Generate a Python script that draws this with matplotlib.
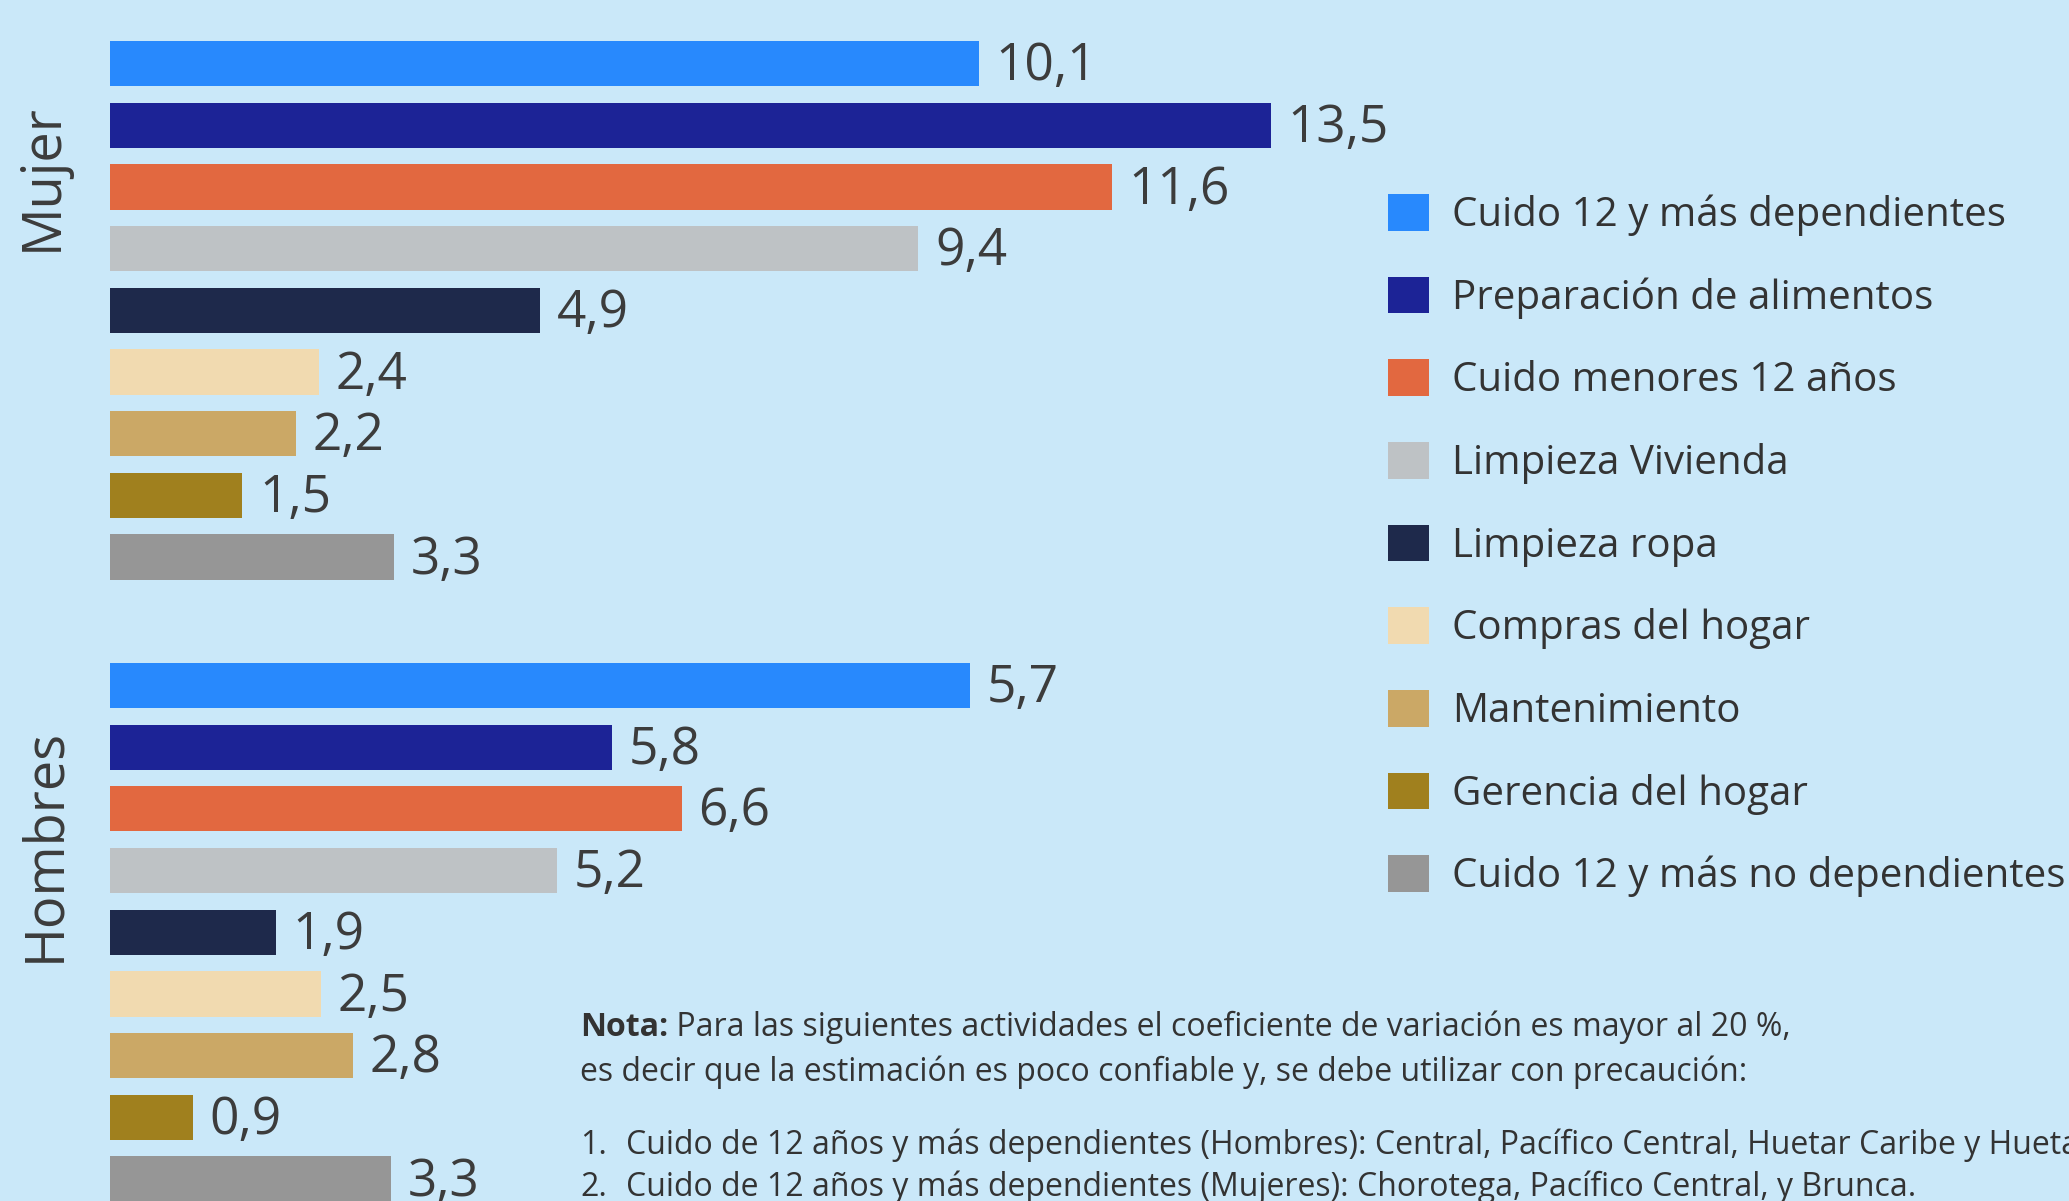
import matplotlib
matplotlib.use("Agg")
import matplotlib.pyplot as plt
import numpy as np
from matplotlib.patches import Patch

# --- data -------------------------------------------------------------
ACTIVIDADES = [
    "Cuido 12 y más dependientes",
    "Preparación de alimentos",
    "Cuido menores 12 años",
    "Limpieza Vivienda",
    "Limpieza ropa",
    "Compras del hogar",
    "Mantenimiento",
    "Gerencia del hogar",
    "Cuido 12 y más no dependientes",
]
COLORES = ["#2889FD", "#1C2396", "#E26840", "#BEC2C5", "#1E294B",
           "#F1DAB0", "#CBA866", "#A0801E", "#969696"]

GRUPOS = ["Mujer", "Hombres"]
# bar lengths (they drift a little from the printed labels)
MUJER = [10.1, 13.5, 11.65, 9.4, 5.0, 2.43, 2.16, 1.54, 3.3]
# the first Hombres bar is drawn about as long as 10.0 in the source, though labelled 5,7
HOMBRES = [10.0, 5.84, 6.65, 5.2, 1.93, 2.45, 2.82, 0.96, 3.27]
MUJER_ETIQ = ["10,1", "13,5", "11,6", "9,4", "4,9", "2,4", "2,2", "1,5", "3,3"]
HOMBRES_ETIQ = ["5,7", "5,8", "6,6", "5,2", "1,9", "2,5", "2,8", "0,9", "3,3"]

NOTA_TITULO = "Nota:"
NOTA_LINEAS = [
    " Para las siguientes actividades el coeficiente de variación es mayor al 20 %,",
    "es decir que la estimación es poco confiable y, se debe utilizar con precaución:",
]
NOTA_ITEMS = [
    "Cuido de 12 años y más dependientes (Hombres): Central, Pacífico Central, Huetar Caribe y Huetar Norte.",
    "Cuido de 12 años y más dependientes (Mujeres): Chorotega, Pacífico Central, y Brunca.",
]

# --- layout -----------------------------------------------------------
W, H = 2069, 1201
BG = "#CAE8F9"
TXT = "#3C3C3C"
NOTA_TXT = "#333333"
NOTA_FS = 23

plt.rcParams["font.family"] = ["Open Sans", "DejaVu Sans"]


def fx(px):
    return px / W


def fy(py):
    return 1 - py / H


fig = plt.figure(figsize=(W / 100, H / 100), dpi=100, facecolor=BG)
ax = fig.add_axes([fx(110), 0, 1290 / W, 1])
ax.set_facecolor("none")
ax.set_xlim(0, 15)
ax.set_ylim(18.436, -1.029)
ax.set_axis_off()

pos_m = np.arange(len(MUJER))
pos_h = np.arange(len(HOMBRES)) + 10.08

for pos, vals, etiq in [(pos_m, MUJER, MUJER_ETIQ), (pos_h, HOMBRES, HOMBRES_ETIQ)]:
    ax.barh(pos, vals, height=0.733, color=COLORES, linewidth=0)
    for y, v, t in zip(pos, vals, etiq):
        ax.annotate(t, (v, y), xytext=(12, -12), textcoords="offset points",
                    ha="left", va="baseline", fontsize=37, color=TXT,
                    annotation_clip=False)

# group labels
for nombre, (px, py) in zip(GRUPOS, [(57, 177), (59, 845)]):
    fig.text(fx(px), fy(py), nombre, rotation=90, rotation_mode="anchor",
             ha="center", va="baseline", fontsize=39, color=TXT)

# legend
handles = [Patch(facecolor=c, edgecolor="none") for c in COLORES]
ax.legend(handles, ACTIVIDADES, loc="upper left",
          bbox_to_anchor=(fx(1388), fy(194)), bbox_transform=fig.transFigure,
          frameon=False, fontsize=29, labelcolor="#333333",
          handlelength=1.02, handleheight=1.02, handletextpad=0.56,
          labelspacing=1.008, borderpad=0, borderaxespad=0)

# note
t1 = fig.text(fx(580), fy(1036), NOTA_TITULO, fontsize=NOTA_FS, fontweight="bold",
              color=NOTA_TXT, va="baseline")
ax.annotate(NOTA_LINEAS[0], xy=(1, 0), xycoords=t1, ha="left", va="bottom",
            fontsize=NOTA_FS, color=NOTA_TXT, annotation_clip=False)
fig.text(fx(580), fy(1081), NOTA_LINEAS[1], fontsize=NOTA_FS, color=NOTA_TXT,
         va="baseline")
for i, (item, py) in enumerate(zip(NOTA_ITEMS, [1154, 1196])):
    fig.text(fx(580), fy(py), f"{i + 1}.", fontsize=NOTA_FS, color=NOTA_TXT, va="baseline")
    fig.text(fx(626), fy(py), item, fontsize=NOTA_FS, color=NOTA_TXT, va="baseline")

fig.savefig("out.png", dpi=100, facecolor=BG)
